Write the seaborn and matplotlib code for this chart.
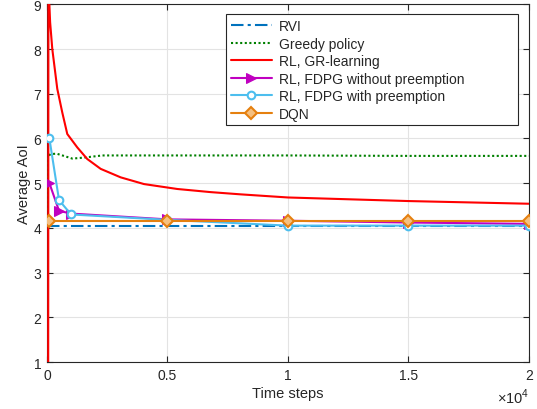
import numpy as np
import matplotlib
matplotlib.use('Agg')
import matplotlib.pyplot as plt
import matplotlib.ticker as mtick
import seaborn as sns

# values
rvi_x = [0, 20000]
rvi_y = [4.04, 4.04]

greedy_x = [20, 40, 150, 400, 700, 1050, 1500, 2300, 5000, 10000, 15000, 20000]
greedy_y = [4.4, 5.6, 5.65, 5.66, 5.61, 5.55, 5.57, 5.62, 5.62, 5.62, 5.61, 5.61]

gr_x = [50, 60, 130, 220, 427, 635, 842, 1257, 1672, 2228, 3058, 4025, 5407, 6790, 8033, 10000, 15000, 20000]
gr_y = [1.0, 9.5, 8.6, 8.0, 7.11, 6.58, 6.10, 5.80, 5.54, 5.32, 5.13, 4.98, 4.87, 4.80, 4.75, 4.68, 4.60, 4.54]

fdpg_x = [100, 500, 1000, 5000, 10000, 15000, 20000]
fdpg_nopre_y = [5.0, 4.38, 4.32, 4.19, 4.16, 4.12, 4.09]
fdpg_pre_y = [6.0, 4.62, 4.30, 4.18, 4.05, 4.05, 4.05]

dqn_x = [100, 5000, 10000, 15000, 20000]
dqn_y = [4.16, 4.16, 4.16, 4.16, 4.16]

sns.set_style('whitegrid')
plt.rcParams['font.family'] = ['Liberation Sans', 'DejaVu Sans']
plt.rcParams['mathtext.fontset'] = 'custom'
plt.rcParams['mathtext.rm'] = 'Liberation Sans'

fig, ax = plt.subplots(figsize=(5.37, 4.10), dpi=100)
fig.subplots_adjust(left=0.0875, right=0.985, bottom=0.1146, top=0.987)

lw = 1.5
sns.lineplot(x=rvi_x, y=rvi_y, ax=ax, color='#0072BD', linestyle=(0, (6, 2, 1.5, 2)), lw=lw, label='RVI')
sns.lineplot(x=greedy_x, y=greedy_y, ax=ax, color='#008000', linestyle=(0, (1, 1.2)), lw=lw,
             label='Greedy policy', sort=False, zorder=3)
sns.lineplot(x=gr_x, y=gr_y, ax=ax, color='#FF0000', lw=lw, label='RL, GR-learning', sort=False, zorder=3)
sns.lineplot(x=fdpg_x, y=fdpg_nopre_y, ax=ax, color='#C000C0', lw=lw, marker='>', markersize=7,
             markeredgecolor='#C000C0', label='RL, FDPG without preemption', zorder=3)
sns.lineplot(x=fdpg_x, y=fdpg_pre_y, ax=ax, color='#4DBEEE', lw=lw, marker='o', markersize=5.5,
             markerfacecolor='white', markeredgecolor='#4DBEEE', markeredgewidth=1.5,
             label='RL, FDPG with preemption', zorder=3)
sns.lineplot(x=dqn_x, y=dqn_y, ax=ax, color='#E5800F', lw=lw, marker='D', markersize=6,
             markerfacecolor='#F5C080', markeredgecolor='#E5800F', markeredgewidth=1.5,
             label='DQN', zorder=3)

ax.set_xlim(0, 20000)
ax.set_ylim(1, 9)
ax.set_xticks([0, 5000, 10000, 15000, 20000])
ax.set_yticks(range(1, 10))
ax.xaxis.set_major_formatter(mtick.FuncFormatter(lambda v, p: f'{v / 1e4:g}'))

ax.grid(True, color='#e3e3e3', lw=0.8)
for s in ax.spines.values():
    s.set_color('#262626')
    s.set_linewidth(0.8)
ax.tick_params(direction='in', length=4, width=0.8, colors='#262626', labelsize=10,
               top=True, right=True, bottom=True, left=True, pad=4)

ax.set_xlabel('Time steps', fontsize=10.5, color='#262626', labelpad=3)
ax.set_ylabel('Average AoI', fontsize=10.5, color='#262626', labelpad=2)
ax.text(1.0, -0.07, r'$\times10^4$', transform=ax.transAxes, ha='right', va='top',
        fontsize=10.5, color='#262626')

leg = ax.legend(loc='upper left', bbox_to_anchor=(0.371, 0.665, 0.606, 0.307), mode='expand',
                fontsize=10, handlelength=3.0,
                frameon=True, fancybox=False, framealpha=1, edgecolor='#262626',
                borderpad=0.35, labelspacing=0.25, handletextpad=0.45, borderaxespad=0)
leg.get_frame().set_linewidth(0.8)

plt.savefig('out.png', dpi=100)
